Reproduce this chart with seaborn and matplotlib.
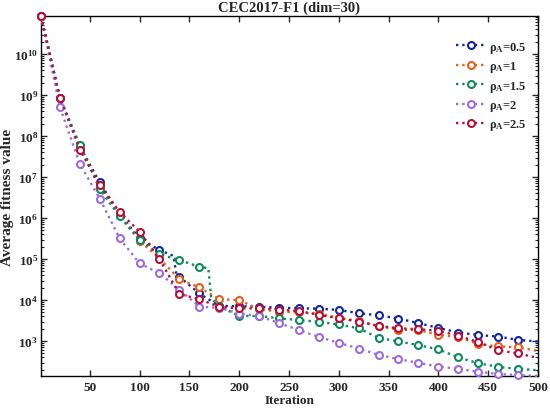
import numpy as np
import pandas as pd
import matplotlib
matplotlib.use('Agg')
import matplotlib.pyplot as plt
import matplotlib.ticker as mticker
import seaborn as sns

# Data (markers every 20 iterations, line ends at 500)
marker_iters = [1, 20, 40, 60, 80, 100, 120, 140, 160, 180, 200, 220, 240, 260,
                280, 300, 320, 340, 360, 380, 400, 420, 440, 460, 480]

iters_blue = [1, 20, 40, 60, 80, 100, 120, 134, 137, 140, 160, 180, 200, 220, 240, 260,
              280, 300, 320, 340, 360, 380, 400, 420, 440, 460, 480, 500]
fit_blue = [8.5e10, 8.5e8, 5.6e7, 7.4e6, 1.26e6, 3.2e5, 1.66e5, 1.2e5, 4.3e4, 3.7e4, 1.45e4,
            7.2e3, 7.1e3, 6.9e3, 6.5e3, 6.3e3, 6.2e3, 5.75e3, 4.8e3, 4.25e3, 3.55e3,
            2.75e3, 2.1e3, 1.62e3, 1.41e3, 1.29e3, 1.07e3, 980]

iters_orange = [1, 20, 40, 60, 80, 100, 120, 140, 160, 180, 200, 220, 240, 260,
                280, 300, 320, 340, 360, 380, 400, 420, 440, 460, 480, 500]
fit_orange = [8.5e10, 8.5e8, 5.2e7, 6.0e6, 1.2e6, 2.8e5, 1.05e5, 3.2e4, 2.05e4, 1.05e4,
              1.0e4, 6.0e3, 5.25e3, 5.0e3, 4.6e3, 3.7e3, 3.1e3, 2.3e3, 1.9e3, 1.86e3,
              1.41e3, 1.26e3, 850, 740, 710, 575]

iters_green = [1, 20, 40, 60, 80, 100, 120, 140, 160, 169, 172, 180, 200, 220, 240, 260,
               280, 300, 320, 340, 360, 380, 400, 420, 440, 460, 480, 500]
fit_green = [8.5e10, 8.5e8, 6.2e7, 5.1e6, 1.1e6, 2.95e5, 1.32e5, 9.5e4, 6.5e4, 6.0e4, 1.12e4,
             7.0e3, 4.1e3, 4.1e3, 3.6e3, 3.25e3, 2.95e3, 2.55e3, 2.05e3, 1.2e3, 980,
             800, 630, 400, 290, 235, 210, 195]

iters_purple = [1, 20, 40, 60, 80, 100, 120, 140, 160, 180, 200, 220, 240, 260,
                280, 300, 320, 340, 360, 380, 400, 420, 440, 460, 480, 500]
fit_purple = [8.5e10, 5.1e8, 2.1e7, 3.0e6, 3.2e5, 7.9e4, 4.5e4, 1.8e4, 6.9e3, 6.5e3,
              4.7e3, 4.1e3, 2.75e3, 1.86e3, 1.26e3, 910, 660, 460, 365, 295,
              240, 210, 178, 158, 148, 141]

iters_red = [1, 20, 40, 60, 80, 100, 120, 140, 160, 180, 200, 220, 240, 260,
             280, 300, 320, 340, 360, 380, 400, 420, 440, 460, 480, 500]
fit_red = [8.5e10, 8.5e8, 4.7e7, 6.3e6, 1.4e6, 4.7e5, 1.0e5, 1.4e4, 1.05e4, 6.9e3,
           6.3e3, 6.3e3, 5.9e3, 5.4e3, 4.4e3, 3.6e3, 3.0e3, 2.35e3, 2.05e3, 1.95e3,
           1.78e3, 1.35e3, 950, 600, 500, 390]

labels = ['0.5', '1', '1.5', '2', '2.5']
colors = ['#14289a', '#e5601f', '#0f8a5c', '#9a6ed6', '#b0123c']
ytick_exps = [3, 4, 5, 6, 7, 8, 9, 10]

series = [
    (iters_blue, fit_blue),
    (iters_orange, fit_orange),
    (iters_green, fit_green),
    (iters_purple, fit_purple),
    (iters_red, fit_red),
]

sns.set_style('ticks')
plt.rcParams['font.family'] = ['Liberation Serif', 'DejaVu Serif']
plt.rcParams['font.weight'] = 'bold'
plt.rcParams['axes.labelweight'] = 'bold'
plt.rcParams['axes.titleweight'] = 'bold'
plt.rcParams['mathtext.fontset'] = 'custom'
plt.rcParams['mathtext.rm'] = 'Liberation Serif:bold'
plt.rcParams['mathtext.it'] = 'Liberation Serif:bold'
plt.rcParams['mathtext.bf'] = 'Liberation Serif:bold'

fig = plt.figure(figsize=(5.5, 4.1), dpi=100)
ax = fig.add_axes([0.0745, 0.0805, 0.9035, 0.878])

for (its, fit), lab, col in zip(series, labels, colors):
    df = pd.DataFrame({'Iteration': its, 'fitness': fit})
    idx = [i for i, v in enumerate(its) if v in marker_iters]
    sns.lineplot(data=df, x='Iteration', y='fitness', ax=ax, color=col,
                 linestyle=':', linewidth=1.7, marker='o', markevery=idx,
                 markersize=5, markerfacecolor='white', markeredgecolor=col,
                 markeredgewidth=1.5, clip_on=False, zorder=3,
                 label=r'$\mathbf{\rho_A}$=' + lab)

ax.set_yscale('log')
ax.set_xlim(1, 500)
ax.set_ylim(141, 8.5e10)
ax.set_xticks(np.arange(50, 501, 50))
ax.yaxis.set_major_locator(mticker.FixedLocator([10.0 ** e for e in ytick_exps]))
ax.yaxis.set_major_formatter(mticker.FixedFormatter([r'$\mathbf{10^{%d}}$' % e for e in ytick_exps]))
minor = [m * 10.0 ** e for e in range(2, 11) for m in range(2, 10)]
ax.yaxis.set_minor_locator(mticker.FixedLocator([v for v in minor if 141 <= v <= 8.5e10]))
ax.yaxis.set_minor_formatter(mticker.NullFormatter())

ax.tick_params(which='both', direction='in', top=True, right=True, labelsize=9.5)
ax.tick_params(which='major', length=4, width=1)
ax.tick_params(which='minor', length=2, width=0.8)
ax.tick_params(axis='y', pad=2)
for s in ax.spines.values():
    s.set_linewidth(1)
    s.set_color('black')

ax.set_title('CEC2017-F1 (dim=30)', fontsize=10.5, fontweight='bold', pad=4)
ax.set_xlabel('Iteration', fontsize=9.5, fontweight='bold', labelpad=1)
ax.set_ylabel('Average fitness value', fontsize=11, fontweight='bold', labelpad=0)

ax.legend(loc='upper right', bbox_to_anchor=(1.0, 0.965), frameon=False, fontsize=9,
          handlelength=2.3, handletextpad=0.3, labelspacing=0.35)

fig.savefig('out.png', dpi=100)
